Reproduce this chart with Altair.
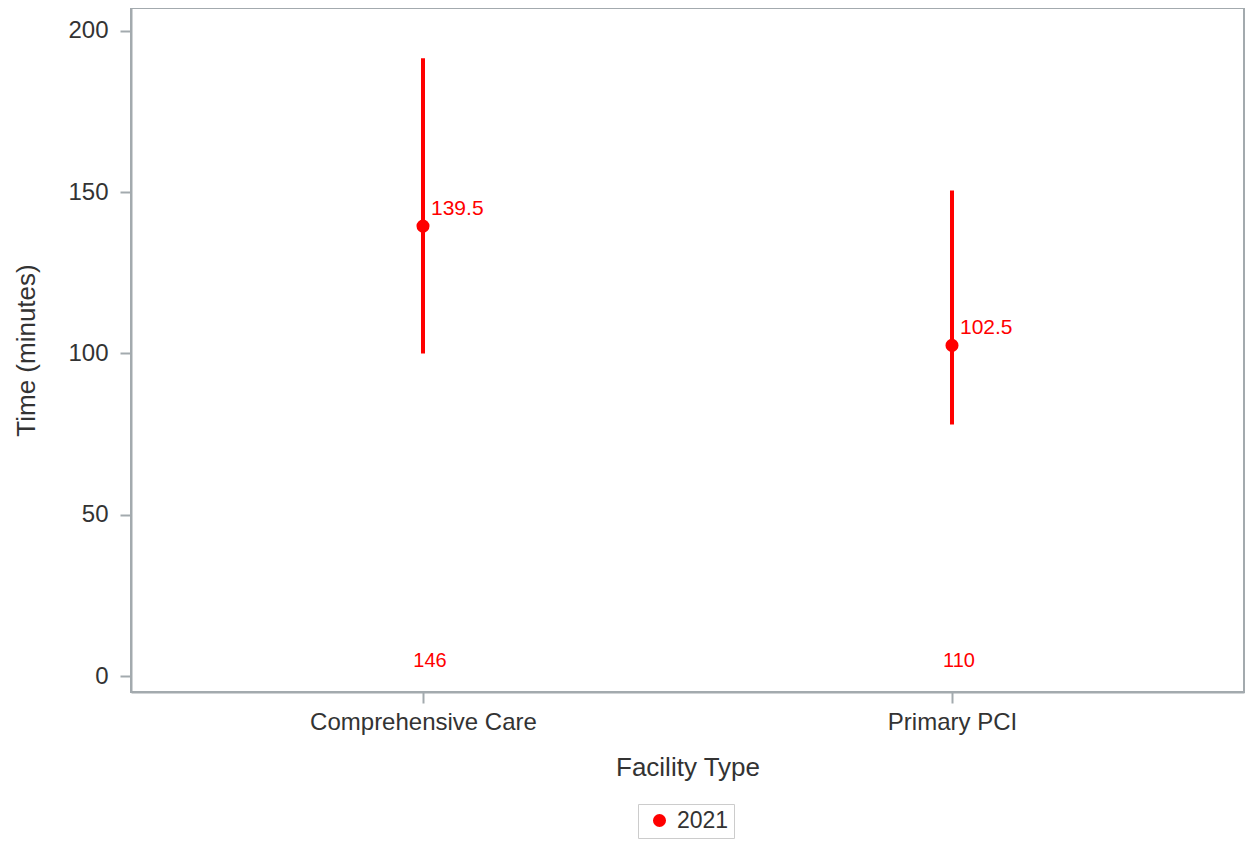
import altair as alt
import pandas as pd

facility = ["Comprehensive Care", "Primary PCI"]
median = [139.5, 102.5]
lower = [100.0, 78.0]
upper = [191.5, 150.5]
count = [146, 110]
year = ["2021", "2021"]

df = pd.DataFrame({
    "Facility Type": facility,
    "median": median,
    "lower": lower,
    "upper": upper,
    "count": count,
    "Year": year,
    "label": [f"{m:.1f}" for m in median],
    "count_label": [str(c) for c in count],
    "count_y": [4.6, 4.6],
})

RED = "#FF0000"
GRAY = "#A3AAAE"
FONT = "Liberation Sans"

x = alt.X("Facility Type:N", sort=facility,
          scale=alt.Scale(type="point", padding=0.552),
          axis=alt.Axis(title="Facility Type", labelAngle=0, labelLimit=0))
yscale = alt.Scale(domain=[-4.96, 207.1], nice=False, zero=False)

color = alt.Color("Year:N", scale=alt.Scale(domain=["2021"], range=[RED]),
                  legend=alt.Legend(title=None, orient="none", legendX=507, legendY=796,
                                    symbolType="circle", symbolSize=170,
                                    symbolStrokeWidth=0, symbolOffset=5,
                                    labelFontSize=23, labelFont=FONT, labelColor="#333333",
                                    labelOffset=6, padding=5,
                                    strokeColor="#CCCCCC", fillColor="white"))

bars = alt.Chart(df).mark_rule(color=RED, strokeWidth=4).encode(
    x=x,
    y=alt.Y("lower:Q", scale=yscale,
            axis=alt.Axis(title="Time (minutes)", values=[0, 50, 100, 150, 200])),
    y2="upper:Q",
)

points = alt.Chart(df).mark_point(filled=True, shape="circle", size=170, opacity=1).encode(
    x=x,
    y=alt.Y("median:Q", scale=yscale),
    color=color,
)

labels = alt.Chart(df).mark_text(color=RED, fontSize=21, font=FONT, align="left",
                                 baseline="middle", dx=8, dy=-17).encode(
    x=x,
    y=alt.Y("median:Q", scale=yscale),
    text="label:N",
)

counts = alt.Chart(df).mark_text(color=RED, fontSize=20, font=FONT, align="center",
                                 baseline="middle", dx=7).encode(
    x=x,
    y=alt.Y("count_y:Q", scale=yscale),
    text="count_label:N",
)

chart = alt.layer(bars, points, labels, counts).properties(
    width=1113,
    height=684,
    autosize=alt.AutoSizeParams(type="none"),
    padding={"left": 123, "top": 0, "right": 3, "bottom": 149},
).configure_view(
    stroke=GRAY, strokeWidth=2
).configure_axis(
    grid=False,
    domainColor=GRAY, domainWidth=2,
    tickColor=GRAY, tickWidth=2, tickSize=11,
    labelFont=FONT, labelFontSize=24, labelColor="#333333",
    titleFont=FONT, titleFontSize=26, titleColor="#333333", titleFontWeight="normal",
).configure_axisX(
    labelPadding=7, titlePadding=20,
).configure_axisY(
    labelPadding=12, titlePadding=28,
)

chart.save("out.html", embed_options={"renderer": "svg", "actions": False})
